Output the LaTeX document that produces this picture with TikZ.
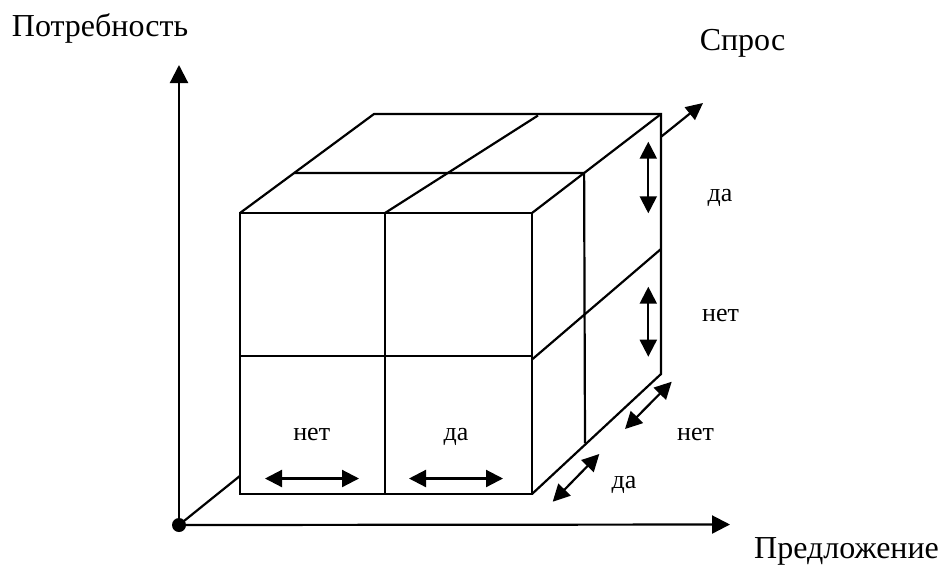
\documentclass[tikz,border=0pt]{standalone}
\usepackage{fontspec}
\setmainfont{Liberation Serif}
\newfontfamily\labelfont{Liberation Serif}
\usetikzlibrary{arrows.meta,calc}
\begin{document}
\begin{tikzpicture}[x=1pt,y=-1pt,
  edge/.style={line width=2.2pt},
  axis/.style={line width=2.2pt,-{Triangle[length=18pt,width=18pt]}},
  twoway/.style={line width=2.2pt,{Triangle[length=17pt,width=17pt]}-{Triangle[length=17pt,width=17pt]}},
  biglabel/.style={font=\labelfont\fontsize{32}{36}\selectfont,inner sep=0pt},
  smalllabel/.style={font=\labelfont\fontsize{26}{30}\selectfont,inner sep=0pt}]
\useasboundingbox (0,0) rectangle (942,566);

% axes
\coordinate (O) at (179,525);
\coordinate (Yend) at (179,65);
\coordinate (Xend) at (730,524.5);
\coordinate (Zend) at (703,103);

% front face
\coordinate (F1) at (240,213);
\coordinate (F2) at (385,213);
\coordinate (F3) at (532,213);
\coordinate (F4) at (240,356);
\coordinate (F5) at (532,356);
\coordinate (F5b) at (532,359.5);
\coordinate (F6) at (385,494);
\coordinate (F7) at (240,494);
\coordinate (F8) at (532,494);
% back edges
\coordinate (B1) at (374,114);
\coordinate (B2) at (538,115.5);
\coordinate (B3) at (661,114);
\coordinate (B4) at (661,249);
\coordinate (B5) at (661,374);
% mid-depth section
\coordinate (T1) at ($(F1)!0.404!(B1)$);
\coordinate (T2) at ($(F3)!0.404!(B3)$);
\coordinate (T3) at (585,443);
% visible pieces of the depth axis
\coordinate (Z1) at ($(O)!0.1164!(Zend)$);
\coordinate (Z2) at ($(O)!0.9198!(Zend)$);

\draw[axis] (O) -- (Yend);
\draw[axis] (O) -- (Xend);
\draw[edge] (O) -- (Z1);
\draw[line width=2.2pt,-{Triangle[length=17pt,width=16pt]}] (Z2) -- (Zend);
\fill (O) circle[radius=7pt];

% cube
\draw[edge] (F1) rectangle (F8);
\draw[edge] (F4) -- (F5);
\draw[edge] (F2) -- (F6);
\draw[edge] (F1) -- (B1) -- (B3) -- (B5) -- (F8);
\draw[edge] (F3) -- (B3);
\draw[edge] (F2) -- (B2);
\draw[edge] (T1) -- (T2) -- (T3);
\draw[edge] (F5b) -- (B4);

% two-way arrows
\coordinate (a1) at (265,478.5);  \coordinate (a2) at (359,478.5);
\coordinate (b1) at (409,478.5);  \coordinate (b2) at (503,478.5);
\coordinate (c1) at (648.3,141.7); \coordinate (c2) at (648.3,213.3);
\coordinate (d1) at (648.3,286.7); \coordinate (d2) at (648.3,356.7);
\coordinate (e1) at (625,429);    \coordinate (e2) at (671.7,381.7);
\coordinate (f1) at (552.7,501.7); \coordinate (f2) at (599.3,454);
\draw[twoway] (a1) -- (a2);
\draw[twoway] (b1) -- (b2);
\draw[twoway] (c1) -- (c2);
\draw[twoway] (d1) -- (d2);
\draw[twoway] (e1) -- (e2);
\draw[twoway] (f1) -- (f2);

% labels
\node[biglabel,anchor=base west] (need) at (11.7,36) {Потребность};
\node[biglabel,anchor=base] (demand) at (742.5,50) {Спрос};
\node[biglabel,anchor=base west] (supply) at (754,558) {Предложение};
\node[smalllabel,anchor=base] (n1) at (311.7,440.7) {нет};
\node[smalllabel,anchor=base] (y1) at (456,440.7) {да};
\node[smalllabel,anchor=base] (y2) at (720,201.7) {да};
\node[smalllabel,anchor=base] (n2) at (720.5,321) {нет};
\node[smalllabel,anchor=base] (n3) at (695.5,440) {нет};
\node[smalllabel,anchor=base] (y3) at (624,488.3) {да};
\end{tikzpicture}
\end{document}
